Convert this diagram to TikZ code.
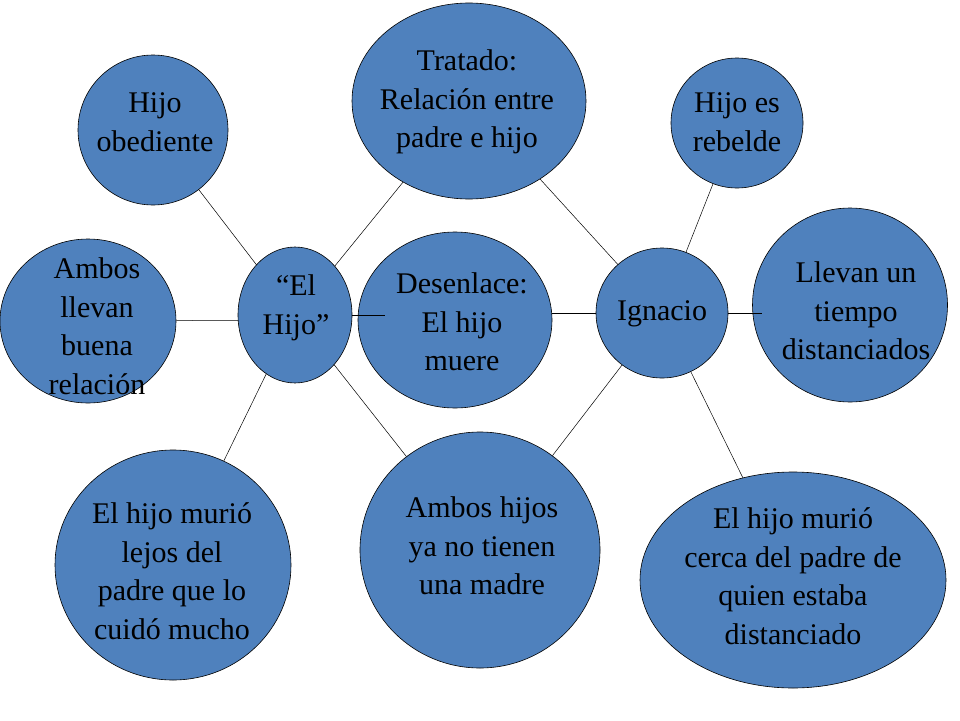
\documentclass[tikz,border=0pt]{standalone}
\usepackage{fontspec}
\setmainfont{Liberation Serif}
\usetikzlibrary{shapes.geometric}
\begin{document}
\begin{tikzpicture}[x=1pt,y=-1pt,
  bub/.style={ellipse,draw=black,line width=0.6pt,fill=bubfill,inner sep=0pt},
  txt/.style={align=center,font=\fontsize{30}{38.5}\selectfont,text=black},
  con/.style={draw=black,line width=0.5pt}]
\definecolor{bubfill}{HTML}{4F81BD}
\useasboundingbox (0,0) rectangle (960,720);
\fill[white] (0,0) rectangle (960,720);
% bubbles
\node[bub,minimum width=150pt,minimum height=150pt] (obe) at (153,130) {};
\node[bub,minimum width=234pt,minimum height=196pt] (tra) at (469,101) {};
\node[bub,minimum width=132pt,minimum height=130pt] (reb) at (737,123) {};
\node[bub,minimum width=176pt,minimum height=164pt] (amb) at (88,321) {};
\node[bub,minimum width=195pt,minimum height=194pt] (lle) at (850,305) {};
\node[bub,minimum width=236pt,minimum height=230pt] (lej) at (173,565) {};
\node[bub,minimum width=240pt,minimum height=236pt] (hij) at (480,550) {};
\node[bub,minimum width=306pt,minimum height=216pt] (cer) at (793,580) {};
% connectors (behind central bubbles)
\draw[con] (obe) -- (295,315);
\draw[con] (tra) -- (295,315);
\draw[con] (tra) -- (662,313);
\draw[con] (reb) -- (662,313);
\draw[con] (amb) -- (295,320);
\draw[con] (lej) -- (295,315);
\draw[con] (hij) -- (295,315);
\draw[con] (hij) -- (662,313);
\draw[con] (cer) -- (662,313);
\node[bub,minimum width=114pt,minimum height=136pt] (elh) at (295,315) {};
\node[bub,minimum width=194pt,minimum height=176pt] (des) at (455,320) {};
\node[bub,minimum width=132pt,minimum height=130pt] (ign) at (662,313) {};
\draw[con] (elh.east) -- ++(33,0);
\draw[con] (des.east |- ign.west) -- (ign.west);
\draw[con] (ign.east) -- ++(34,0);
% texts
\node[txt] (t1) at (155,122) {Hijo\\ obediente};
\node[txt] (t2) at (467,102) {Tratado:\\ Relación entre\\ padre e hijo};
\node[txt] (t3) at (737,122) {Hijo es\\ rebelde};
\node[txt] (t4) at (97,326) {Ambos\\ llevan\\ buena\\ relación};
\node[txt] (t5) at (296,308) {“El\\ Hijo”};
\node[txt] (t6) at (462,322) {Desenlace:\\ El hijo\\ muere};
\node[txt] (t7) at (662,314) {Ignacio};
\node[txt] (t8) at (856,311) {Llevan un\\ tiempo\\ distanciados};
\node[txt] (t9) at (172,571) {El hijo murió\\ lejos del\\ padre que lo\\ cuidó mucho};
\node[txt] (t10) at (482,546) {Ambos hijos\\ ya no tienen\\ una madre};
\node[txt] (t11) at (793,576) {El hijo murió\\ cerca del padre de\\ quien estaba\\ distanciado};
\end{tikzpicture}
\end{document}
